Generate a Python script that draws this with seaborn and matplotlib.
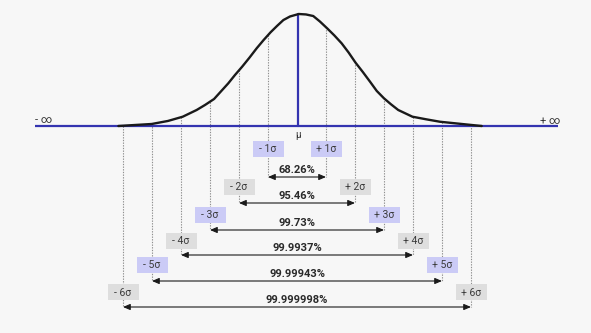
import numpy as np
import matplotlib
matplotlib.use("Agg")
import matplotlib.pyplot as plt
from matplotlib.patches import Rectangle
import seaborn as sns
import pandas as pd

# ---- data ----
# bell curve samples: position in sigma-line units, relative height (peak = 1)
curve_s = [-6.16, -5.01, -4.45, -3.94, -3.46, -3.17, -2.86, -2.37, -2.14, -1.89,
           -1.64, -1.39, -1.15, -0.91, -0.69, -0.47, -0.24, 0.06, 0.31, 0.56,
           0.79, 1.04, 1.29, 1.54, 1.78, 2.02, 2.27, 2.52, 2.75, 3.00,
           3.24, 3.49, 3.98, 4.45, 4.93, 5.91, 6.37]
curve_h = [0.0, 0.018, 0.045, 0.083, 0.143, 0.188, 0.241, 0.381, 0.455, 0.530,
           0.610, 0.694, 0.768, 0.837, 0.893, 0.946, 0.978, 1.0, 0.996, 0.982,
           0.933, 0.872, 0.808, 0.738, 0.656, 0.565, 0.482, 0.395, 0.313, 0.247,
           0.194, 0.143, 0.083, 0.060, 0.038, 0.012, 0.0]

sigma_levels = [1, 2, 3, 4, 5, 6]
percentages = ["68.26%", "95.46%", "99.73%", "99.9937%", "99.99943%", "99.999998%"]
neg_labels = ["- 1σ", "- 2σ", "- 3σ", "- 4σ", "- 5σ", "- 6σ"]
pos_labels = ["+ 1σ", "+ 2σ", "+ 3σ", "+ 4σ", "+ 5σ", "+ 6σ"]
box_colors = ["#cbcbf6", "#dedede", "#cbcbf6", "#dedede", "#cbcbf6", "#dedede"]

# ---- layout (pixel rows for y, sigma units for x) ----
W, H = 591, 333
CX, SP = 297.0, 29.0            # centre pixel and pixels per sigma line
BASE_Y, PEAK_H = 126.0, 112.0
box_y = [149, 187, 215, 241, 265, 292]
arrow_y = [177, 203, 230, 255, 281, 307]
BG = "#f7f7f7"
BLUE = "#3434b0"

sns.set_theme(style="white")
plt.rcParams["font.family"] = ["Roboto", "DejaVu Sans"]

fig = plt.figure(figsize=(W / 100, H / 100), dpi=100, facecolor=BG)
ax = fig.add_axes([0, 0, 1, 1])
ax.set_facecolor(BG)

px = 1.0 / SP  # one pixel in x data units

df = pd.DataFrame({"s": curve_s, "y": [BASE_Y - PEAK_H * h for h in curve_h]})

# dotted vertical lines from curve to arrows
for k, ay in zip(sigma_levels, arrow_y):
    for sgn in (-1, 1):
        s = sgn * k
        top = BASE_Y - PEAK_H * np.interp(s, curve_s, curve_h)
        ax.plot([s, s], [top, ay], color="#8f8f8f", lw=0.8,
                linestyle=(0, (1.2, 1.2)), zorder=1)

# baseline and mean line
ax.plot([(35 - CX) / SP, (558 - CX) / SP], [BASE_Y, BASE_Y], color=BLUE, lw=1.6,
        zorder=3, solid_capstyle="butt")
ax.plot([0.05, 0.05], [BASE_Y - PEAK_H, BASE_Y], color=BLUE, lw=1.6, zorder=3)

# curve
sns.lineplot(data=df, x="s", y="y", ax=ax, color="#1a1a1a", lw=1.7,
             sort=False, zorder=4, solid_joinstyle="round",
             solid_capstyle="round")
ax.set_xlim(-CX / SP, (W - CX) / SP)
ax.set_ylim(H, 0)
ax.axis("off")

# infinity / mu text
ax.text((44 - CX) / SP, 120, "- ∞", ha="center", va="center", fontsize=8,
        color="#333333")
ax.text((550 - CX) / SP, 121, "+ ∞", ha="center", va="center", fontsize=8,
        color="#333333")
ax.text(0.05, 135, "μ", ha="center", va="center", fontsize=7, color="#333333")

# sigma boxes, arrows and percentages
bw, bh = 31 * px, 16
for k, by, ay, pct, nl, pl, bc in zip(sigma_levels, box_y, arrow_y, percentages,
                                      neg_labels, pos_labels, box_colors):
    for sgn, lab in ((-1, nl), (1, pl)):
        s = sgn * k
        ax.add_patch(Rectangle((s - bw / 2, by - bh / 2), bw, bh,
                               facecolor=bc, edgecolor="none", zorder=5))
        ax.text(s, by + 0.5, lab, ha="center", va="center", fontsize=7.5,
                color="#3a3a3a", zorder=6)
    ax.annotate("", xy=(k, ay), xytext=(-k, ay),
                arrowprops=dict(arrowstyle="<|-|>,head_length=0.35,head_width=0.15",
                                color="#1a1a1a", lw=0.8,
                                shrinkA=0, shrinkB=0), zorder=6)
    ax.text(0, ay - 7, pct, ha="center", va="center", fontsize=8,
            fontweight="bold", color="#2a2a2a", zorder=6)

fig.savefig("out.png", dpi=100, facecolor=BG)
